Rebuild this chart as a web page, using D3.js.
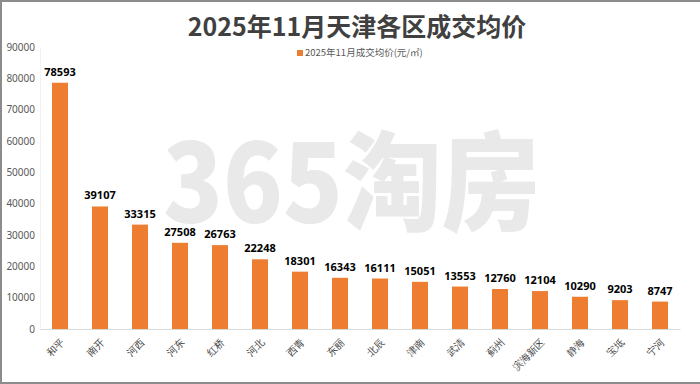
<!DOCTYPE html>
<html>
<head>
<meta charset="utf-8">
<script src="https://cdn.jsdelivr.net/npm/d3@7"></script>
<style>
	body { margin: 0; background: #fff; }
	svg { display: block; font-family: "Noto Sans CJK SC", "Noto Sans", sans-serif; }
</style>
</head>
<body>
<div id="chart"></div>
<script>
const districts = ["和平", "南开", "河西", "河东", "红桥", "河北", "西青", "东丽", "北辰", "津南", "武清", "蓟州", "滨海新区", "静海", "宝坻", "宁河"];
const avgPrices = [78593, 39107, 33315, 27508, 26763, 22248, 18301, 16343, 16111, 15051, 13553, 12760, 12104, 10290, 9203, 8747];
const yTicks = [0, 10000, 20000, 30000, 40000, 50000, 60000, 70000, 80000, 90000];
const chartTitle = "2025年11月天津各区成交均价";
const seriesName = "2025年11月成交均价(元/㎡)";

const fullWidth = 700, fullHeight = 384;
const margin = { top: 47, right: 20, bottom: 55, left: 40 };
const width = fullWidth - margin.left - margin.right;
const height = fullHeight - margin.top - margin.bottom;
const barColor = "#ed7d31";

const svg = d3.select("#chart")
	.append("svg")
	.attr("width", fullWidth)
	.attr("height", fullHeight);

// frame
svg.append("path")
	.attr("d", `M${fullWidth},1 H1 V${fullHeight - 1} H${fullWidth}`)
	.attr("fill", "none")
	.attr("stroke", "#8c8c8c")
	.attr("stroke-width", 2);

// watermark
svg.append("text")
	.attr("x", 163)
	.attr("y", 222)
	.attr("textLength", 377)
	.attr("lengthAdjust", "spacingAndGlyphs")
	.attr("font-size", 108)
	.attr("font-weight", 900)
	.attr("fill", "#e9e9e9")
	.text("365淘房");

// title
svg.append("text")
	.attr("x", 357)
	.attr("y", 36)
	.attr("text-anchor", "middle")
	.attr("font-size", 25)
	.attr("font-weight", "bold")
	.attr("fill", "#404040")
	.text(chartTitle);

// legend
const legend = svg.append("g").attr("transform", "translate(297,50)");
legend.append("rect")
	.attr("width", 6)
	.attr("height", 6)
	.attr("fill", barColor);
legend.append("text")
	.attr("x", 8)
	.attr("y", 6)
	.attr("font-size", 9.5)
	.attr("fill", "#595959")
	.text(seriesName);

const g = svg.append("g")
	.attr("transform", "translate(" + margin.left + "," + margin.top + ")");

const x = d3.scaleBand()
	.domain(districts)
	.range([0, width])
	.paddingInner(0.6)
	.paddingOuter(0.3);
const y = d3.scaleLinear()
	.domain([0, 90000])
	.range([height, 0]);

// y axis
const yAxis = g.append("g")
	.call(d3.axisLeft(y).tickValues(yTicks).tickSize(0).tickPadding(5).tickFormat(d3.format("d")));
yAxis.select(".domain").attr("stroke", "#f2f2f2");
yAxis.selectAll("text")
	.attr("font-family", "'Noto Sans', sans-serif")
	.attr("font-size", 10)
	.attr("fill", "#595959");

// x axis
const xAxis = g.append("g")
	.attr("transform", "translate(0," + height + ")")
	.call(d3.axisBottom(x).tickSize(0).tickPadding(0));
xAxis.select(".domain").attr("stroke", "#d9d9d9");
xAxis.selectAll("text")
	.attr("font-size", 10)
	.attr("fill", "#404040")
	.attr("text-anchor", "end")
	.attr("dy", 0)
	.attr("transform", "translate(5,14) rotate(-45)");

// bars
g.selectAll(".bar")
	.data(avgPrices)
	.enter()
	.append("rect")
	.classed("bar", true)
	.attr("x", (d, i) => x(districts[i]))
	.attr("y", d => y(d))
	.attr("width", x.bandwidth())
	.attr("height", d => height - y(d))
	.attr("fill", barColor);

// value labels
g.selectAll(".value")
	.data(avgPrices)
	.enter()
	.append("text")
	.classed("value", true)
	.attr("x", (d, i) => x(districts[i]) + x.bandwidth() / 2)
	.attr("y", d => y(d) - 7)
	.attr("text-anchor", "middle")
	.attr("font-family", "'Noto Sans', sans-serif")
	.attr("font-size", 11)
	.attr("font-weight", "bold")
	.attr("fill", "#000")
	.text(d => d);
</script>
</body>
</html>
